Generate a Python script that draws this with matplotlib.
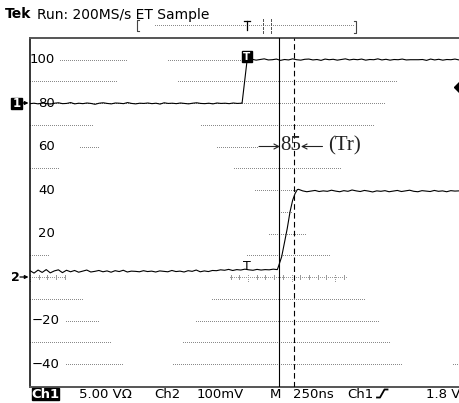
import numpy as np
import matplotlib
matplotlib.use("Agg")
import matplotlib.pyplot as plt
from matplotlib.patches import Rectangle

W, H, DPI = 459, 403, 100

# ---------------- data ----------------
y_labels = [100, 80, 60, 40, 20, -20, -40]

# dotted reference segments: level, start (ns), end (ns)
grid_level = [100, 100, 90, 90, 80, 70, 70, 60, 60, 50, 50, 40, 30, 20,
              10, 10, -10, -10, -20, -20, -30, -30, -40, -40, -40]
grid_start = [172, 792, 0, 849, 0, 0, 981, 287, 1073, 0, 1170, 1290, 1428, 1370,
              0, 1244, 0, 1044, 206, 952, 0, 877, 206, 820, 2425]
grid_end = [562, 1222, 505, 2110, 2041, 362, 1973, 396, 1314, 172, 1783, 1525, 1502, 1583,
            109, 1720, 310, 1921, 401, 2001, 465, 2070, 533, 2133, 2460]

# centre ruler on channel-2 ground (ns)
ruler_start = [0, 1147]
ruler_end = [201, 1818]

# cursors (ns)
cursor_solid = 1430
cursor_dashed = 1515
rise_value = "85"
rise_name = "(Tr)"

# channel 1 trace
ch1_low = [79.7, 79.9, 79.6, 80.0, 79.8, 79.5, 79.9, 80.1, 79.7, 79.8, 80.2, 79.6, 79.9,
           79.7, 80.0, 79.8, 79.4, 79.9, 80.1, 79.8, 79.6, 80.0, 79.9, 79.7, 80.2, 79.8,
           79.6, 79.9, 79.8, 80.0, 79.7, 79.9, 79.5, 80.1, 79.8, 79.9, 79.7, 80.0, 79.8,
           79.6, 79.9, 80.1, 79.8, 79.7, 79.9, 79.6, 80.0, 79.8, 79.9, 79.7, 80.0, 79.8, 79.9]
ch1_edge_t = [1216, 1245]
ch1_edge_v = [79.9, 99.8]
ch1_high = [99.8, 100.1, 99.7, 100.0, 100.3, 99.8, 99.9, 100.2, 99.6, 100.0, 99.8, 100.3,
            99.9, 99.7, 100.1, 100.2, 99.8, 100.0, 99.6, 100.2, 99.9, 100.1, 99.7, 100.0,
            100.3, 99.8, 100.1, 99.9, 100.2, 99.7, 100.0, 99.9, 100.3, 99.8, 100.1, 99.7,
            100.0, 99.9, 100.2, 99.8, 99.9, 99.9, 99.9, 100.0, 99.6, 100.2, 99.8, 100.1,
            99.7, 100.0, 99.9, 100.2, 99.8]

# channel 2 trace
ch2_low = [2.9, 1.8, 3.2, 2.1, 3.4, 1.9, 2.8, 3.3, 2.0, 3.1, 2.4, 3.0, 2.2, 2.7, 3.2, 2.3,
           2.6, 3.0, 2.4, 2.8, 2.2, 2.9, 2.5, 3.1, 2.3, 2.7, 2.6, 2.4, 2.9, 2.5, 2.7, 2.3,
           2.8, 2.6, 2.4, 3.0, 2.5, 2.7, 2.3, 2.9, 2.6, 3.2, 2.4, 2.8, 2.5, 3.0, 2.9, 3.3,
           3.1, 3.5, 3.0, 3.4, 3.2, 3.6, 3.3, 3.1, 3.5, 3.2, 3.4, 3.3, 3.6, 3.4]
ch2_edge_t = [1424, 1443, 1462, 1475, 1491, 1506, 1520, 1533]
ch2_edge_v = [4.7, 9.3, 17.0, 22.3, 30.0, 35.3, 38.4, 40.2]
ch2_high = [40.3, 39.6, 39.2, 39.5, 39.8, 39.3, 39.6, 39.4, 39.9, 39.5, 39.2, 39.7, 39.4,
            40.0, 39.6, 39.3, 39.8, 39.5, 39.1, 39.6, 39.4, 39.7, 39.2, 39.5, 39.8, 39.3,
            39.6, 39.9, 39.4, 39.2, 39.7, 39.5, 39.3, 39.8, 39.4, 39.6, 39.2, 39.7, 39.5, 39.6]

# status line texts
title_bold = "Tek"
title_rest = "Run: 200MS/s ET Sample"
status_texts = ["5.00 VΩ", "Ch2", "100mV", "M", "250ns", "Ch1", "1.8 V"]
status_x = [79, 154, 197, 270, 293, 347, 426]

# ---------------- figure ----------------
fig = plt.figure(figsize=(W / DPI, H / DPI), dpi=DPI, facecolor="white")

PX_LEFT, PX_TOP, PX_BOT = 30, 38, 387
Y0_PX, PX_PER_UNIT = 277.0, 2.175
NS_PER_PX = 250 / 43.6


def tx(px):
    return (px - PX_LEFT) * NS_PER_PX


def vy(py):
    return (Y0_PX - py) / PX_PER_UNIT


ax = fig.add_axes([PX_LEFT / W, (H - PX_BOT) / H, (W - PX_LEFT) / W, (PX_BOT - PX_TOP) / H])
ax.set_xlim(0, tx(W))
ax.set_ylim(vy(PX_BOT), vy(PX_TOP))
ax.set_xticks([])
ax.set_yticks([])
ax.spines["right"].set_visible(False)
ax.spines["left"].set_color("black")
ax.spines["left"].set_linewidth(1.1)
for s in ("top", "bottom"):
    ax.spines[s].set_color("#555555")
    ax.spines[s].set_linewidth(1.4)

dot = (0, (1, 1.2))
GRID_C = "#8a8a8a"
for lv, a, b in zip(grid_level, grid_start, grid_end):
    ax.plot([a, b], [lv, lv], color=GRID_C, lw=0.72, ls=dot, antialiased=False, zorder=1)

# ruler with ticks
for a, b in zip(ruler_start, ruler_end):
    ax.plot([a, b], [0, 0], color="#999999", lw=0.72, ls=dot, antialiased=False, zorder=1)
    ticks = np.arange(np.ceil(a / 50) * 50, b + 1, 50)
    for t in ticks:
        major = int(round(t)) % 250 == 0
        h = 1.9 if major else 0.9
        ax.plot([t, t], [-h, h], color="#999999", lw=0.72,
                ls=dot if major else "-", antialiased=False, zorder=1)

# y labels
for v in y_labels:
    xr = tx(55) if v > 0 else tx(60)
    ax.text(xr, v, "−%d" % abs(v) if v < 0 else str(v), ha="right", va="center",
            fontsize=9.5, color="black", zorder=2)

# cursors
ax.axvline(cursor_solid, color="black", lw=0.8, zorder=3)
ax.axvline(cursor_dashed, color="black", lw=0.8, ls=(0, (5, 3)), zorder=3)

# traces
ch1_t = np.concatenate([np.linspace(0, 1212, len(ch1_low)), ch1_edge_t,
                        np.linspace(1250, 2460, len(ch1_high))])
ch1_v = np.concatenate([ch1_low, ch1_edge_v, ch1_high])
ch2_t = np.concatenate([np.linspace(0, 1418, len(ch2_low)), ch2_edge_t,
                        np.linspace(1540, 2460, len(ch2_high))])
ch2_v = np.concatenate([ch2_low, ch2_edge_v, ch2_high])
ax.plot(ch1_t, ch1_v, color="black", lw=0.8, zorder=4)
ax.plot(ch2_t, ch2_v, color="black", lw=0.8, zorder=4)

# trigger markers on traces
bx0, bx1 = tx(242), tx(252)
by0, by1 = vy(62), vy(51)
ax.add_patch(Rectangle((bx0, by0), bx1 - bx0, by1 - by0, color="black", zorder=5))
ax.text((bx0 + bx1) / 2, (by0 + by1) / 2, "T", color="white", fontweight="bold",
        fontsize=7.5, ha="center", va="center", zorder=6)
ax.text(tx(246.7), vy(267), "T", color="black", fontsize=9,
        ha="center", va="center", zorder=5)

# rise time annotation: ->85<- (Tr)
serif = ["Liberation Serif", "DejaVu Serif"]
base = vy(150)
arrow_kw = dict(arrowstyle="->,head_length=0.35,head_width=0.18", color="#222222",
                lw=0.8, shrinkA=0, shrinkB=0)
ax.annotate("", xy=(tx(280), vy(146.5)), xytext=(tx(259), vy(146.5)),
            arrowprops=arrow_kw, zorder=6)
ax.annotate("", xy=(tx(301), vy(146.5)), xytext=(tx(322.5), vy(146.5)),
            arrowprops=arrow_kw, zorder=6)
ax.text(tx(280), base, rise_value, family=serif, fontsize=15, color="#222222",
        ha="left", va="baseline", zorder=6)
ax.text(tx(328), base, rise_name, family=serif, fontsize=15, color="#222222",
        ha="left", va="baseline", zorder=6)

# ---------------- screen chrome (pixel overlay) ----------------
ov = fig.add_axes([0, 0, 1, 1], zorder=5)
ov.set_xlim(0, W)
ov.set_ylim(H, 0)
ov.axis("off")
ov.patch.set_alpha(0)

ov.text(5, 18.5, title_bold, fontweight="bold", fontsize=10, va="baseline")
ov.text(37, 18.5, title_rest, fontsize=10, va="baseline")

# record bar
ov.plot([139, 137, 137, 139], [20, 20, 31, 31], color="#444444", lw=0.8)
ov.plot([155, 354], [25, 25], color=GRID_C, lw=0.72, ls=dot, antialiased=False)
ov.plot([244, 250], [21, 21], color="black", lw=0.9)
ov.plot([247, 247], [21, 30], color="black", lw=0.9)
for xb in (263, 271):
    ov.plot([xb, xb], [19, 34], color="#555555", lw=0.8, ls=(0, (2, 1)), antialiased=False)
ov.plot([354, 356, 356, 354], [21, 21, 33, 33], color="#444444", lw=0.8)

# channel markers on the left
ov.add_patch(Rectangle((11, 97.5), 11, 11, color="black"))
ov.text(16.5, 103.5, "1", color="white", fontweight="bold", fontsize=8.5,
        ha="center", va="center")
ov.annotate("", xy=(28.5, 103), xytext=(21.5, 103),
            arrowprops=dict(arrowstyle="-|>", color="black", lw=0.9,
                            mutation_scale=5, shrinkA=0, shrinkB=0))
ov.text(15.5, 277.5, "2", color="black", fontweight="bold", fontsize=9,
        ha="center", va="center")
ov.annotate("", xy=(28.5, 277), xytext=(20, 277),
            arrowprops=dict(arrowstyle="-|>", color="black", lw=0.9,
                            mutation_scale=5, shrinkA=0, shrinkB=0))

# right-edge indicator
ov.plot([459], [87], marker="D", color="black", markersize=5.5)

# bottom status line
ov.add_patch(Rectangle((32, 388), 27, 12, color="black"))
ov.text(45.5, 398.3, "Ch1", color="white", fontweight="bold", fontsize=9.5,
        ha="center", va="baseline")
for s, xs in zip(status_texts, status_x):
    ov.text(xs, 398.3, s, fontsize=9.5, ha="left", va="baseline", color="black")
ov.plot([377, 380, 384.5, 387.5], [397.5, 397.5, 389.5, 389.5], color="black", lw=1.3)

fig.savefig("out.png", dpi=DPI, facecolor="white")
